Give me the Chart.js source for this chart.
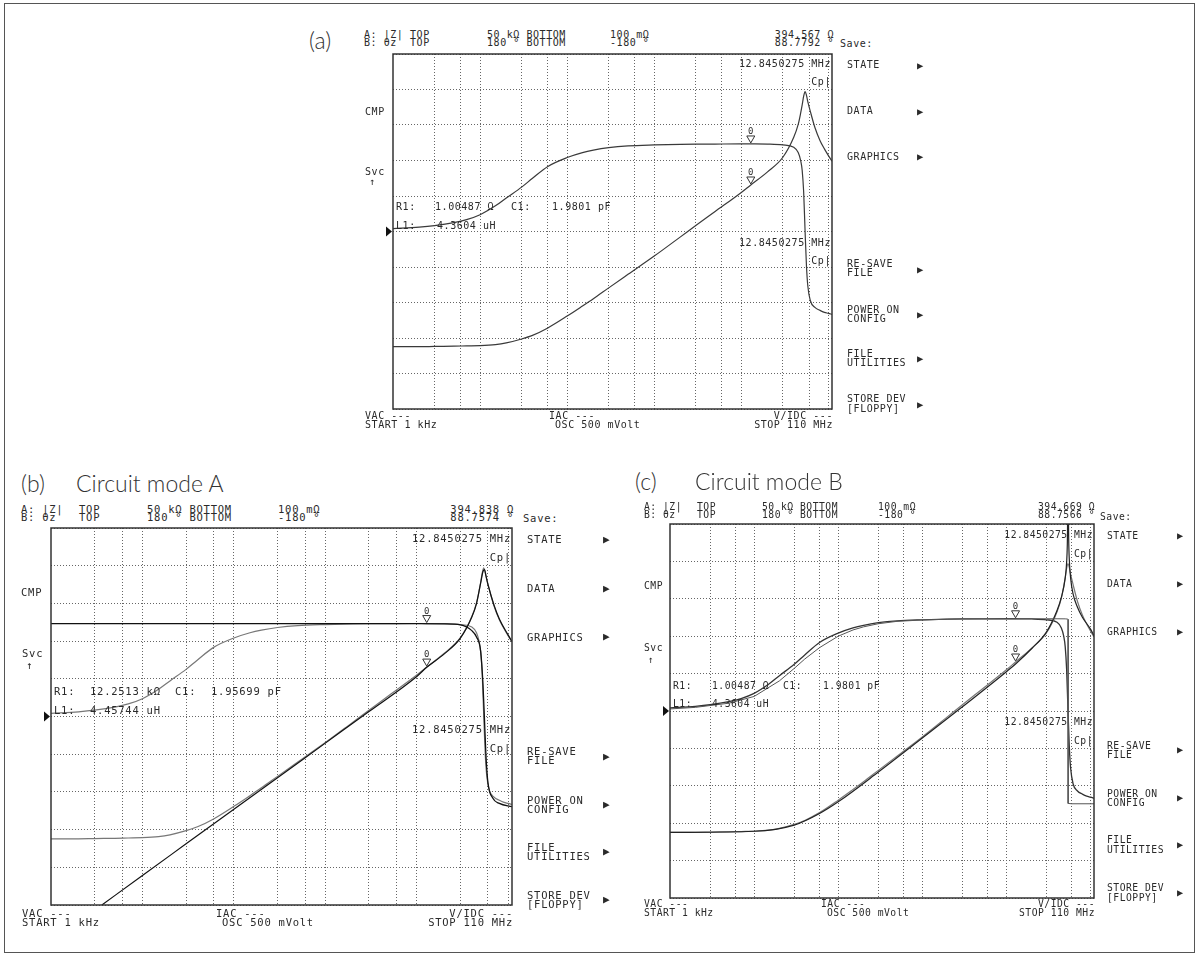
<!DOCTYPE html>
<html>
<head>
<meta charset="utf-8">
<title>Impedance sweep screens</title>
<script src="https://cdn.jsdelivr.net/npm/chart.js@4.4.1/dist/chart.umd.min.js"></script>
<style>
  html, body { margin: 0; padding: 0; background: #fff; }
  body { position: relative; width: 1199px; height: 956px; overflow: hidden; }
  #frame { position: absolute; left: 4px; top: 3px; width: 1191px; height: 950px; border: 1.5px solid #555; box-sizing: border-box; }
  .t { position: absolute; font-family: "DejaVu Sans Mono", monospace; color: #2a2a2a; white-space: pre; }
  .big { position: absolute; font-family: Lato, "Noto Sans", sans-serif; font-weight: 300; font-size: 23px; line-height: 26px; color: #333; white-space: pre; }
  .plot { position: absolute; }
</style>
</head>
<body>
<div id="frame"></div>
<script>
// measured sweep (same part on all three screens), |Z| in ohm, theta in degrees
const freqMeas = [1e3, 2e3, 3e3, 5e3, 7e3, 1e4, 1.5e4, 2e4, 3e4, 4e4, 6e4, 1e5, 1.5e5, 2e5, 3e5, 5e5,
  1e6, 2e6, 3e6, 5e6, 1e7, 1.2845e7, 2e7, 3e7, 4e7, 4.5e7, 4.8e7, 5e7, 5.2e7, 5.4e7, 5.6e7, 5.8e7,
  6.2e7, 7e7, 8e7, 9e7, 1e8, 1.1e8];
const zMeas = [1.00, 1.00, 1.01, 1.02, 1.03, 1.04, 1.08, 1.15, 1.33, 1.52, 2.0, 3.1, 4.5, 5.9, 8.8, 14.5,
  28.5, 58, 88, 148, 300, 395, 640, 1100, 2300, 3700, 5600, 7600, 10500, 12500, 10800, 8600,
  6000, 3300, 2050, 1500, 1170, 950];
const thetaMeas = [3, 4.5, 6, 9, 12, 17, 26, 34, 45, 54, 66, 75, 80, 82.5, 85, 86.8,
  87.8, 88.4, 88.6, 88.7, 88.8, 88.78, 88.6, 87.8, 85.5, 80, 72, 62, 40, 0, -35, -55,
  -70, -77, -80, -82, -83, -84];

// circuit mode A simulation (panel b)
const freqSimAZ = [3.6e3, 1e4, 3e4, 1e5, 3e5, 1e6, 3e6, 1e7, 1.2845e7, 2e7, 3e7, 4e7, 4.5e7, 5e7, 5.3e7,
  5.5e7, 5.7e7, 6e7, 7e7, 8e7, 1e8, 1.1e8];
const zSimA = [0.1, 0.28, 0.84, 2.8, 8.4, 28, 84, 285, 392, 625, 1080, 2250, 3600, 7400, 11000,
  11800, 9500, 7000, 3400, 2100, 1200, 960];
const freqSimAT = [1e3, 1e5, 1e6, 1e7, 2e7, 3e7, 4e7, 4.5e7, 5e7, 5.3e7, 5.5e7, 5.7e7, 6e7, 6.8e7, 8e7, 1.1e8];
const thetaSimA = [88.76, 88.76, 88.76, 88.7, 88.4, 87.5, 82, 76, 62, 30, -3, -36, -63, -78, -83, -86];

// circuit mode B simulation (panel c)
const freqSimBZ = [1e3, 1e4, 3e4, 6e4, 1e5, 3e5, 1e6, 3e6, 1e7, 1.2845e7, 2e7, 3e7, 4e7, 4.5e7, 5e7,
  5.2e7, 5.3e7, 5.416e7, 5.5e7, 5.6e7, 5.8e7, 6.2e7, 7e7, 8e7, 1e8, 1.1e8];
const zSimB = [1.00, 1.04, 1.29, 1.94, 2.92, 8.3, 27.4, 82, 281, 368, 634, 1136, 2400, 3800, 7500,
  13000, 25000, 200000, 30000, 14000, 7500, 4300, 2700, 1900, 1250, 990];
const freqSimBT = [1e3, 2e3, 5e3, 1e4, 2e4, 3e4, 4e4, 6e4, 1e5, 1.5e5, 2e5, 3e5, 5e5, 1e6, 2e6,
  5e6, 1e7, 2e7, 3e7, 4e7, 5e7, 5.3e7, 5.416e7, 5.417e7, 6e7, 1.1e8];
const thetaSimB = [2, 3.5, 7.5, 14, 29, 41, 50, 61, 72, 78, 81, 84, 86.3, 87.6, 88.4,
  88.7, 88.77, 88.77, 88.77, 88.76, 88.7, 88.5, 88.2, -89, -89.3, -89.3];

// marker readouts
const markerFreq = 12.8450275e6;
const markerZ = [394.567, 394.838, 394.669];
const markerTheta = [88.7792, 88.7574, 88.7566];

// log grid: 1, 3, 6 per decade
const xGridTicks = [3e3, 6e3, 1e4, 3e4, 6e4, 1e5, 3e5, 6e5, 1e6, 3e6, 6e6, 1e7, 3e7, 6e7, 1e8];

const menuItems = [['STATE'], ['DATA'], ['GRAPHICS'], ['RE-SAVE', 'FILE'], ['POWER ON', 'CONFIG'],
  ['FILE', 'UTILITIES'], ['STORE DEV', '[FLOPPY]']];
const menuPos = [0.031, 0.161, 0.289, 0.605, 0.734, 0.858, 0.986];

const W = 1199;
const PAD = { l: 12, r: 3, t: 3, b: 3 };

function trace(freqs, vals, axis, color, width, smooth) {
  return {
    data: freqs.map((f, i) => ({ x: f, y: vals[i] })),
    yAxisID: axis,
    borderColor: color,
    borderWidth: width,
    pointRadius: 0,
    fill: false,
    tension: 0,
    cubicInterpolationMode: smooth === false ? 'default' : 'monotone'
  };
}

const panels = [
  {
    x0: 393, x1: 832, top: 54, bottom: 409, fs: 10, ls: 0.55, menuX: 847, arrowX: 917,
    sets: [
      trace(freqMeas, zMeas, 'yz', '#3a3a3a', 1.2),
      trace(freqMeas, thetaMeas, 'yt', '#3a3a3a', 1.2)
    ],
    big: [['(a)', 309, 40]],
    texts: [
      ['A: |Z|', 364, 35], ['TOP', 410, 35], ['50 kΩ BOTTOM', 487, 35], ['100 mΩ', 610, 35], ['394.567 Ω', 834, 35, 'r'],
      ['B: θz', 364, 43], ['TOP', 410, 43], ['180 ° BOTTOM', 487, 43], ['-180 °', 610, 43], ['88.7792 °', 834, 43, 'r'],
      ['Save:', 840, 44],
      ['CMP', 365, 112], ['Svc', 365, 172], ['↑', 369, 182],
      ['12.8450275 MHz', 831, 64, 'r'], ['Cp|', 831, 82, 'r'],
      ['12.8450275 MHz', 831, 243, 'r'], ['Cp|', 831, 261, 'r'],
      ['R1:', 396, 207], ['1.00487 Ω', 435, 207], ['C1:', 511, 207], ['1.9801 pF', 552, 207],
      ['L1:', 396, 226], ['4.3604 uH', 437, 226],
      ['VAC ---', 365, 416], ['START 1 kHz', 365, 425], ['IAC ---', 549, 416], ['OSC 500 mVolt', 555, 425],
      ['V/IDC ---', 833, 416, 'r'], ['STOP 110 MHz', 833, 425, 'r']
    ]
  },
  {
    x0: 51, x1: 512, top: 528, bottom: 905, fs: 10.5, ls: 0.75, menuX: 527, arrowX: 603,
    sets: [
      trace(freqSimAT, thetaSimA, 'yt', '#111', 1.3),
      trace(freqSimAZ, zSimA, 'yz', '#111', 1.2),
      trace(freqMeas, zMeas, 'yz', '#777', 1.2),
      trace(freqMeas, thetaMeas, 'yt', '#777', 1.2)
    ],
    big: [['(b)', 21, 483], ['Circuit mode A', 76, 483]],
    texts: [
      ['A: |Z|', 21, 509], ['TOP', 79, 509], ['50 kΩ BOTTOM', 147, 509], ['100 mΩ', 278, 509], ['394.838 Ω', 514, 509, 'r'],
      ['B: θz', 21, 517], ['TOP', 79, 517], ['180 ° BOTTOM', 147, 517], ['-180 °', 278, 517], ['88.7574 °', 514, 517, 'r'],
      ['Save:', 523, 518],
      ['CMP', 21, 592], ['Svc', 22, 653], ['↑', 26, 665],
      ['12.8450275 MHz', 511, 538, 'r'], ['Cp|', 511, 557, 'r'],
      ['12.8450275 MHz', 511, 729, 'r'], ['Cp|', 511, 748, 'r'],
      ['R1:', 54, 691], ['12.2513 kΩ', 90, 691], ['C1:', 175, 691], ['1.95699 pF', 211, 691],
      ['L1:', 54, 710], ['4.45744 uH', 90, 710],
      ['VAC ---', 22, 913], ['START 1 kHz', 22, 922], ['IAC ---', 216, 913], ['OSC 500 mVolt', 222, 922],
      ['V/IDC ---', 513, 913, 'r'], ['STOP 110 MHz', 513, 922, 'r']
    ]
  },
  {
    x0: 670, x1: 1094, top: 524, bottom: 898, fs: 9.7, ls: 0.5, menuX: 1107, arrowX: 1177,
    sets: [
      trace(freqSimBT, thetaSimB, 'yt', '#555', 1, false),
      trace(freqSimBZ, zSimB, 'yz', '#222', 1.2),
      trace(freqMeas, zMeas, 'yz', '#777', 1.2),
      trace(freqMeas, thetaMeas, 'yt', '#333', 1.3)
    ],
    big: [['(c)', 635, 481], ['Circuit mode B', 695, 481]],
    texts: [
      ['A: |Z|', 644, 507], ['TOP', 697, 507], ['50 kΩ BOTTOM', 762, 507], ['100 mΩ', 878, 507], ['394.669 Ω', 1095, 507, 'r'],
      ['B: θz', 644, 515], ['TOP', 697, 515], ['180 ° BOTTOM', 762, 515], ['-180 °', 878, 515], ['88.7566 °', 1095, 515, 'r'],
      ['Save:', 1100, 517],
      ['CMP', 644, 586], ['Svc', 644, 648], ['↑', 648, 660],
      ['12.8450275 MHz', 1093, 535, 'r'], ['Cp|', 1093, 554, 'r'],
      ['12.8450275 MHz', 1093, 722, 'r'], ['Cp|', 1093, 741, 'r'],
      ['R1:', 673, 686], ['1.00487 Ω', 712, 686], ['C1:', 783, 686], ['1.9801 pF', 823, 686],
      ['L1:', 673, 704], ['4.3604 uH', 712, 704],
      ['VAC ---', 644, 904], ['START 1 kHz', 644, 913], ['IAC ---', 821, 904], ['OSC 500 mVolt', 827, 913],
      ['V/IDC ---', 1095, 904, 'r'], ['STOP 110 MHz', 1095, 913, 'r']
    ]
  }
];

function txt(s, x, y, fs, ls, align) {
  const d = document.createElement('div');
  d.className = 't';
  d.textContent = s;
  d.style.fontSize = fs + 'px';
  d.style.lineHeight = fs + 'px';
  d.style.letterSpacing = ls + 'px';
  d.style.top = (y - fs / 2) + 'px';
  if (align === 'r') d.style.right = (W - x) + 'px';
  else d.style.left = x + 'px';
  document.body.appendChild(d);
}

// box, markers and the theta reference arrow
const decor = {
  id: 'decor',
  afterDatasetsDraw(chart, args, opts) {
    const { ctx, chartArea: a, scales } = chart;
    const k = opts.mk;
    ctx.save();
    ctx.strokeStyle = '#333';
    ctx.lineWidth = 1.5;
    ctx.strokeRect(a.left, a.top, a.right - a.left, a.bottom - a.top);

    const x = scales.x.getPixelForValue(markerFreq);
    const ys = [scales.yz.getPixelForValue(markerZ[k]), scales.yt.getPixelForValue(markerTheta[k])];
    ctx.font = '9px "DejaVu Sans Mono"';
    ctx.textAlign = 'center';
    ys.forEach(y => {
      ctx.beginPath();
      ctx.moveTo(x - 4, y - 8);
      ctx.lineTo(x + 4, y - 8);
      ctx.lineTo(x, y - 1);
      ctx.closePath();
      ctx.fillStyle = '#fff';
      ctx.fill();
      ctx.strokeStyle = '#333';
      ctx.lineWidth = 1;
      ctx.stroke();
      ctx.fillStyle = '#333';
      ctx.fillText('0', x, y - 10);
    });

    const yr = scales.yt.getPixelForValue(0);
    ctx.fillStyle = '#111';
    ctx.beginPath();
    ctx.moveTo(a.left - 7, yr - 5);
    ctx.lineTo(a.left - 1, yr);
    ctx.lineTo(a.left - 7, yr + 5);
    ctx.closePath();
    ctx.fill();
    ctx.restore();
  }
};

const gridLines = { color: '#666', drawTicks: false, lineWidth: 1 };
const gridBorder = { display: false, dash: [1, 2] };

panels.forEach((p, k) => {
  const wrap = document.createElement('div');
  wrap.className = 'plot';
  wrap.style.left = (p.x0 - PAD.l) + 'px';
  wrap.style.top = (p.top - PAD.t) + 'px';
  wrap.style.width = (p.x1 - p.x0 + PAD.l + PAD.r) + 'px';
  wrap.style.height = (p.bottom - p.top + PAD.t + PAD.b) + 'px';
  const cv = document.createElement('canvas');
  wrap.appendChild(cv);
  document.body.appendChild(wrap);

  new Chart(cv, {
    type: 'line',
    data: { datasets: p.sets },
    options: {
      responsive: true,
      maintainAspectRatio: false,
      animation: false,
      layout: { padding: { left: PAD.l, right: PAD.r, top: PAD.t, bottom: PAD.b } },
      plugins: { legend: { display: false }, tooltip: { enabled: false }, decor: { mk: k } },
      scales: {
        x: {
          type: 'logarithmic', min: 1e3, max: 1.1e8,
          afterBuildTicks: s => { s.ticks = xGridTicks.map(v => ({ value: v })); },
          ticks: { display: false }, grid: gridLines, border: gridBorder
        },
        yg: {
          type: 'linear', position: 'left', min: 0, max: 10,
          ticks: { display: false, stepSize: 1 }, grid: gridLines, border: gridBorder
        },
        yz: { type: 'logarithmic', min: 0.1, max: 5e4, display: false },
        yt: { type: 'linear', min: -180, max: 180, display: false }
      }
    },
    plugins: [decor]
  });

  p.big.forEach(b => {
    const d = document.createElement('div');
    d.className = 'big';
    d.textContent = b[0];
    d.style.left = b[1] + 'px';
    d.style.top = (b[2] - 13) + 'px';
    document.body.appendChild(d);
  });
  p.texts.forEach(t => txt(t[0], t[1], t[2], p.fs, p.ls, t[3]));

  const h = p.bottom - p.top;
  menuItems.forEach((m, i) => {
    const c = p.top + menuPos[i] * h;
    if (m.length === 1) txt(m[0], p.menuX, c, p.fs, p.ls);
    else {
      txt(m[0], p.menuX, c - 4.6, p.fs, p.ls);
      txt(m[1], p.menuX, c + 4.6, p.fs, p.ls);
    }
    txt('▶', p.arrowX, c, p.fs * 1.05, 0);
  });
});
</script>
</body>
</html>
